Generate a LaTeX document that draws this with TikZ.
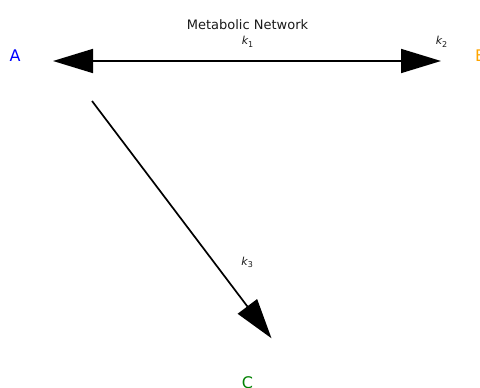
\documentclass[tikz,border=0pt]{standalone}
\usepackage{fontspec}
\setmainfont{DejaVu Sans}
\usetikzlibrary{arrows.meta}
\definecolor{cA}{RGB}{0,0,255}
\definecolor{cB}{RGB}{255,165,0}
\definecolor{cC}{RGB}{0,128,0}
\newcommand{\kk}[1]{{\itshape k}\raisebox{-0.22em}{\fontsize{8}{8}\selectfont #1}}
\tikzset{bighead/.tip={Triangle[length=40pt,width=24pt]}}
\begin{document}
\begin{tikzpicture}[x=1pt,y=-1pt,
  species/.style={font=\fontsize{16}{16}\selectfont, inner sep=0pt},
  rate/.style={font=\fontsize{11}{11}\selectfont, text=black!90, inner sep=0pt},
  flux/.style={line width=1.7pt, black}]
\useasboundingbox (0,0) rectangle (480,388);
\node[font=\fontsize{13}{13}\selectfont, text=black!90, inner sep=0pt] (title) at (247.5,24.5) {Metabolic Network};
\node[species, text=cA] (A) at (15,56) {A};
\node[species, text=cB] (B) at (480.5,56) {B};
\node[species, text=cC] (C) at (247.5,383) {C};
\node[rate] (k1) at (247.5,42) {\kk{1}};
\node[rate] (k2) at (441.5,42) {\kk{2}};
\node[rate] (k3) at (247.2,262.5) {\kk{3}};
\coordinate (ltip) at (53,61);
\coordinate (rtip) at (441,61);
\coordinate (dstart) at (92,101);
\coordinate (dtip) at (271.5,338.3);
\draw[flux, bighead-bighead] (ltip) -- (rtip);
\draw[flux, -bighead] (dstart) -- (dtip);
\end{tikzpicture}
\end{document}
